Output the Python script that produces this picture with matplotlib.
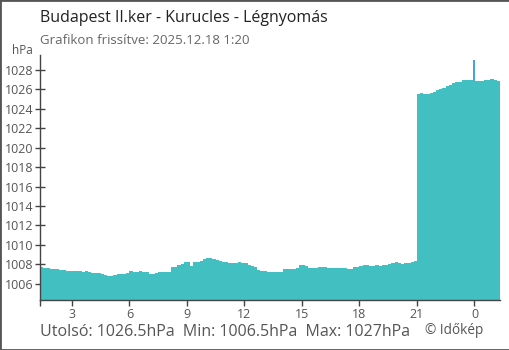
import matplotlib
matplotlib.use("Agg")
import matplotlib.pyplot as plt
import numpy as np
from matplotlib.patches import Rectangle

plt.rcParams['font.family'] = ['Open Sans', 'DejaVu Sans']

# 10-minute samples, 1:20 previous day -> 1:20 today (hours since previous midnight)
start_hour = 1 + 20 / 60
step_hour = 1 / 6
pressure = [
    1007.7, 1007.65, 1007.6, 1007.55, 1007.5, 1007.5,
    1007.45, 1007.4, 1007.35, 1007.3, 1007.3, 1007.3,
    1007.3, 1007.25, 1007.3, 1007.2, 1007.15, 1007.15,
    1007.1, 1007.0, 1006.9, 1006.85, 1006.8, 1006.9,
    1007.0, 1007.0, 1007.05, 1007.1, 1007.35, 1007.2,
    1007.25, 1007.3, 1007.25, 1007.2, 1007.0, 1006.97,
    1007.1, 1007.2, 1007.2, 1007.2, 1007.25, 1007.7,
    1007.75, 1007.95, 1008.0, 1008.2, 1008.2, 1007.85,
    1008.2, 1008.3, 1008.35, 1008.6, 1008.65, 1008.7,
    1008.55, 1008.5, 1008.35, 1008.25, 1008.2, 1008.15,
    1008.15, 1008.15, 1008.2, 1008.15, 1008.1, 1007.97,
    1007.8, 1007.7, 1007.45, 1007.35, 1007.28, 1007.2,
    1007.2, 1007.2, 1007.2, 1007.25, 1007.5, 1007.5,
    1007.55, 1007.55, 1007.6, 1007.9, 1007.9, 1007.85,
    1007.65, 1007.6, 1007.65, 1007.7, 1007.73, 1007.7,
    1007.65, 1007.6, 1007.65, 1007.63, 1007.65, 1007.6,
    1007.55, 1007.5, 1007.75, 1007.75, 1007.8, 1007.9,
    1007.9, 1007.85, 1007.85, 1007.9, 1007.87, 1007.9,
    1007.95, 1008.05, 1008.1, 1008.3, 1008.1, 1008.05,
    1008.1, 1008.1, 1008.3, 1008.35, 1025.5, 1025.55,
    1025.5, 1025.5, 1025.65, 1025.7, 1025.9, 1026.0,
    1026.15, 1026.35, 1026.45, 1026.6, 1026.7, 1026.77,
    1026.9, 1026.9, 1026.95, 1026.95, 1026.85, 1026.8,
    1026.85, 1026.95, 1026.97, 1027.0, 1026.95, 1026.85,
]
midnight_hour = 24
midnight_marker_top = 1029.0

x_ticks = [3, 6, 9, 12, 15, 18, 21, 24]
x_tick_labels = ["3", "6", "9", "12", "15", "18", "21", "0"]
y_ticks = [1006, 1008, 1010, 1012, 1014, 1016, 1018, 1020, 1022, 1024, 1026, 1028]

title = "Budapest II.ker - Kurucles - Légnyomás"
subtitle = "Grafikon frissítve: 2025.12.18 1:20"
summary = "Utolsó: 1026.5hPa  Min: 1006.5hPa  Max: 1027hPa"
credit = "© Időkép"

W, H = 510, 350
fig = plt.figure(figsize=(W / 100, H / 100), dpi=100)
ax = fig.add_axes([40 / W, 1 - 300 / H, 460 / W, 245 / H])

ymin, ymax = 1004.35, 1029.5
times = start_hour + step_hour * np.arange(len(pressure))
vals = np.array(pressure)
ax.bar(times, vals - ymin, bottom=ymin, width=step_hour, align='edge',
       color='#41bfc1', linewidth=0, zorder=2)
ax.vlines(midnight_hour, ymin, midnight_marker_top, color='#2191dc', lw=1.2, zorder=1)

ax.set_xlim(start_hour, start_hour + 24)
ax.set_ylim(ymin, ymax)

ax.set_xticks([start_hour] + x_ticks)
ax.set_xticklabels([""] + x_tick_labels)
ax.set_yticks(y_ticks)
ax.tick_params(axis='x', direction='out', length=4, width=1, color='#444',
               labelsize=9, labelcolor='#555', pad=2)
ax.tick_params(axis='y', direction='inout', length=7, width=1, color='#444',
               labelsize=9, labelcolor='#555', pad=1)
ax.get_xticklines()[-2].set_color('#2191dc')

for s in ['top', 'right']:
    ax.spines[s].set_visible(False)
for s in ['left', 'bottom']:
    ax.spines[s].set_color('#444')
    ax.spines[s].set_linewidth(1)

fig.text(40 / W, 1 - 18 / H, title, fontsize=11.5, color='#222', va='center', ha='left')
fig.text(40 / W, 1 - 41 / H, subtitle, fontsize=9.5, color='#666', va='center', ha='left')
fig.text(12 / W, 1 - 50 / H, "hPa", fontsize=8.5, color='#555', va='center', ha='left')
fig.text(40 / W, 1 - 332 / H, summary, fontsize=11.5, color='#555', va='center', ha='left')
fig.text(425 / W, 1 - 330 / H, credit, fontsize=9.8, color='#555', va='center', ha='left')

fig.patches.append(Rectangle((0, 0), 1, 1, transform=fig.transFigure, fill=False,
                             edgecolor='#555', linewidth=2))

fig.savefig("out.png", dpi=100)
